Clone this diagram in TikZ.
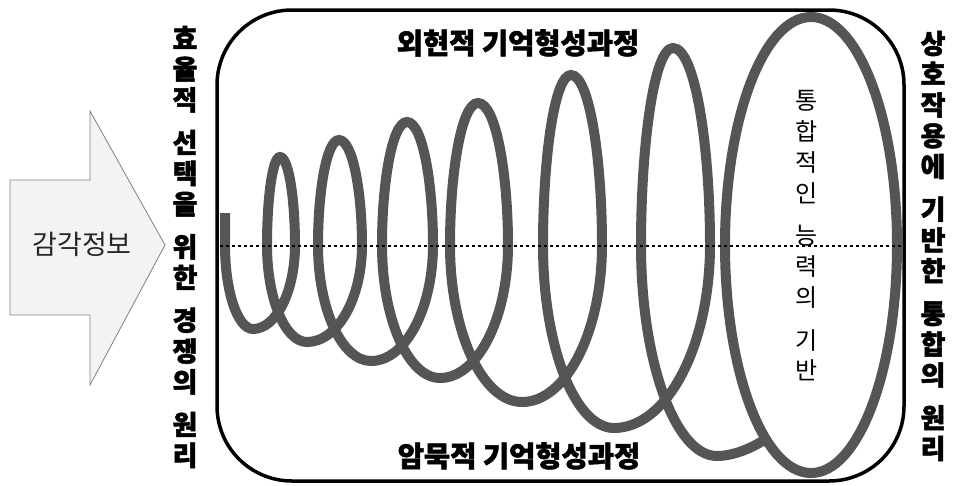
\documentclass[tikz,border=0pt]{standalone}
\usepackage{fontspec}
\setmainfont{Noto Sans CJK KR}[BoldFeatures={FakeBold=1.8}]
\definecolor{coilgray}{RGB}{85,85,85}
\definecolor{arrowfill}{RGB}{243,243,243}

\begin{document}
\begin{tikzpicture}[
    x=1pt, y=-1pt,
    coil/.style={draw=coilgray, line width=10pt},
    frame/.style={draw, line width=3.5pt, rounded corners=75pt},
    axis/.style={line width=2.6pt, dash pattern=on 2.6pt off 3.4pt},
    htext/.style={font=\bfseries\fontsize{28.5}{30}\selectfont, inner sep=0pt},
    vtext/.style={font=\bfseries\fontsize{27}{30.75}\selectfont, align=center, inner sep=0pt},
    inner/.style={font=\fontsize{24}{30.75}\selectfont, align=center, inner sep=0pt},
]
    \useasboundingbox (0,0) rectangle (953,485);

    % Input arrow
    \draw[gray, line width=0.8pt, fill=arrowfill] (10,180) -- (90,180) -- (90,111) -- (165,245)
        -- (90,385) -- (90,315) -- (10,315) -- cycle;
    \node[font=\fontsize{27}{30}\selectfont, text=black!85] (sense) at (82,244) {감각정보};

    % Coil
    \draw[coil] (225,213) -- (225,245)
        \foreach \xs/\xb/\yb/\xr/\xt/\yt/\xl in {225/253/329/295/280/157/267, 267/307/342/362/339/140/318,
            318/371/361/433/407/122/382, 382/440/378/508/478/103/450,
            450/522/402/602/571/75/543, 543/614/428/710/673/48/641}{
            .. controls +(0,{0.552*(\yb-245)}) and +({-0.552*(\xb-\xs)},0) .. (\xb,\yb)
            .. controls +({0.552*(\xr-\xb)},0) and +(0,{0.552*(\yb-245)}) .. (\xr,245)
            .. controls +(0,{-0.5*(245-\yt)}) and +({0.6*(\xr-\xt)},0) .. (\xt,\yt)
            .. controls +({-0.6*(\xt-\xl)},0) and +(0,{-0.5*(245-\yt)}) .. (\xl,245)
        }
        .. controls +(0,116) and +(-42,0) .. (717,456)
        .. controls +(16,0) and +(-12,8) .. (764,440);
    \draw[coil] (811,245) ellipse [x radius=86pt, y radius=228pt];

    % Frame
    \draw[frame] (217,10) rectangle (904,481);

    % Labels
    \node[htext] (explicit) at (518,43) {외현적 기억형성과정};
    \node[htext] (implicit) at (519,456) {암묵적 기억형성과정};
    \node[vtext] (compete) at (185,247) {효\\율\\적\\[12pt]선\\택\\을\\[12pt]위\\한\\[12pt]경\\쟁\\의\\[12pt]원\\리};
    \node[vtext] (integrate) at (933,246) {상\\호\\작\\용\\에\\[12pt]기\\반\\한\\[12pt]통\\합\\의\\[12pt]원\\리};
    \node[inner] (ability) at (807,236) {통\\합\\적\\인\\[12pt]능\\력\\의\\[12pt]기\\반};

    % Axis
    \coordinate (axisL) at (220,246);
    \coordinate (axisR) at (903,246);
    \draw[axis] (axisL) -- (axisR);
\end{tikzpicture}
\end{document}
